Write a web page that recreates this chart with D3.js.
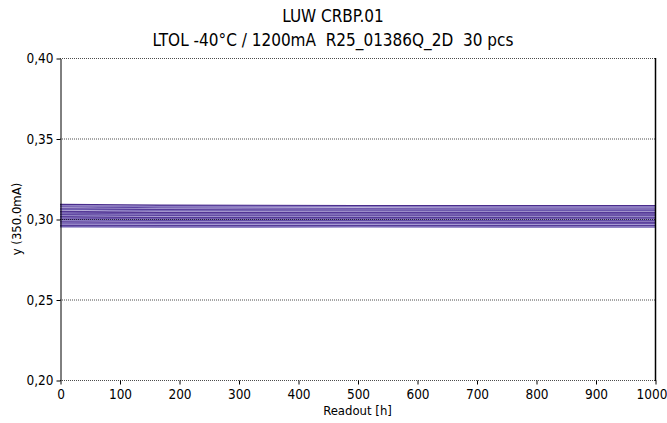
<!DOCTYPE html>
<html><head><meta charset="utf-8">
<script src="https://cdn.jsdelivr.net/npm/d3@7"></script>
<style>
body{margin:0;background:#fff;}
text{font-family:"DejaVu Sans Condensed","DejaVu Sans",Verdana,sans-serif;font-stretch:condensed;fill:#000;white-space:pre;}
</style></head>
<body><svg id="c" width="667" height="423"></svg>
<script>
const titleLines = ["LUW CRBP.01", "LTOL -40°C / 1200mA  R25_01386Q_2D  30 pcs"];
const xLabel = "Readout [h]";
const yLabel = "y (350.0mA)";
const readouts = [0, 168, 500, 1000];
const xTicks = [0,100,200,300,400,500,600,700,800,900,1000];
const yTicks = [0.20,0.25,0.30,0.35,0.40];
const series = [
 [0.3090,0.3085,0.3083,0.3082],
 [0.3082,0.3078,0.3077,0.3076],
 [0.3075,0.3068,0.3066,0.3067],
 [0.3068,0.3062,0.3060,0.3061],
 [0.3062,0.3057,0.3055,0.3054],
 [0.3058,0.3050,0.3049,0.3050],
 [0.3052,0.3046,0.3044,0.3045],
 [0.3047,0.3041,0.3040,0.3040],
 [0.3043,0.3036,0.3035,0.3034],
 [0.3038,0.3032,0.3031,0.3030],
 [0.3034,0.3028,0.3027,0.3027],
 [0.3030,0.3024,0.3023,0.3022],
 [0.3026,0.3020,0.3019,0.3019],
 [0.3022,0.3016,0.3015,0.3015],
 [0.3018,0.3012,0.3011,0.3011],
 [0.3014,0.3008,0.3008,0.3007],
 [0.3010,0.3004,0.3004,0.3004],
 [0.3006,0.3000,0.3000,0.3001],
 [0.3002,0.2997,0.2997,0.2997],
 [0.2998,0.2993,0.2993,0.2994],
 [0.2994,0.2990,0.2990,0.2990],
 [0.2990,0.2986,0.2986,0.2987],
 [0.2986,0.2982,0.2983,0.2983],
 [0.2982,0.2979,0.2979,0.2980],
 [0.2978,0.2975,0.2976,0.2976],
 [0.2975,0.2972,0.2972,0.2973],
 [0.2971,0.2968,0.2968,0.2969],
 [0.2967,0.2964,0.2965,0.2965],
 [0.2960,0.2958,0.2958,0.2959],
 [0.2952,0.2950,0.2951,0.2950]
];
const palette = ["#4a2c8c","#8a7bc2","#5b40a0","#a79cd2","#553a98","#7060b2","#bdb4de","#5a3f9c"];

const svg = d3.select("#c");
const m = {l:60, r:655, t:58, b:380};
const x = d3.scaleLinear().domain([0,1000]).range([m.l, m.r]);
const y = d3.scaleLinear().domain([0.20,0.40]).range([m.b, m.t]);

// lines
const line = d3.line().x((d,i)=>x(readouts[i])).y(d=>y(d));
svg.append("g").selectAll("path").data(series).join("path")
  .attr("d", line).attr("fill","none")
  .attr("stroke",(d,i)=>palette[i%palette.length])
  .attr("stroke-width",1.4);

// grid
svg.append("g").selectAll("line").data(yTicks).join("line")
  .attr("x1",m.l).attr("x2",m.r).attr("y1",d=>y(d)+0.5).attr("y2",d=>y(d)+0.5)
  .attr("stroke","#000").attr("stroke-width",1).attr("stroke-dasharray","1,1")
  .attr("stroke-opacity",0.7);

// axes
const yAxis = d3.axisLeft(y).tickValues(yTicks).tickSize(4).tickSizeOuter(0)
  .tickFormat(d=>d3.format(".2f")(d).replace(".",","));
const gy = svg.append("g").attr("transform",`translate(${m.l+0.5},0.5)`).call(yAxis)
  .attr("font-family",null).attr("font-size",null);
gy.select(".domain").attr("stroke","#000");
gy.selectAll("text").style("font-size","13.5px");

const xAxis = d3.axisBottom(x).tickValues(xTicks).tickSize(4).tickSizeOuter(0)
  .tickFormat(d3.format("d"));
const gx = svg.append("g").attr("transform",`translate(0.5,${m.b+0.5})`).call(xAxis)
  .attr("font-family",null).attr("font-size",null);
gx.select(".domain").remove();
gx.selectAll("text").style("font-size","13.5px").attr("dy","0.85em")
  .attr("dx",d=>d===1000?-4:0);

// right spine
svg.append("line").attr("x1",m.r+0.5).attr("x2",m.r+0.5).attr("y1",m.t).attr("y2",m.b+1)
  .attr("stroke","#000").attr("stroke-width",1.5);

// titles
svg.append("text").attr("x",333).attr("y",22).attr("text-anchor","middle")
  .style("font-size","17px").text(titleLines[0]);
svg.append("text").attr("x",333).attr("y",46).attr("text-anchor","middle")
  .style("font-size","17px").text(titleLines[1]);
svg.append("text").attr("x",(m.l+m.r)/2).attr("y",415).attr("text-anchor","middle")
  .style("font-size","13px").text(xLabel);
svg.append("text").attr("transform",`translate(21,${(m.t+m.b)/2}) rotate(-90)`)
  .attr("text-anchor","middle").style("font-size","13px").text(yLabel);
</script></body></html>
